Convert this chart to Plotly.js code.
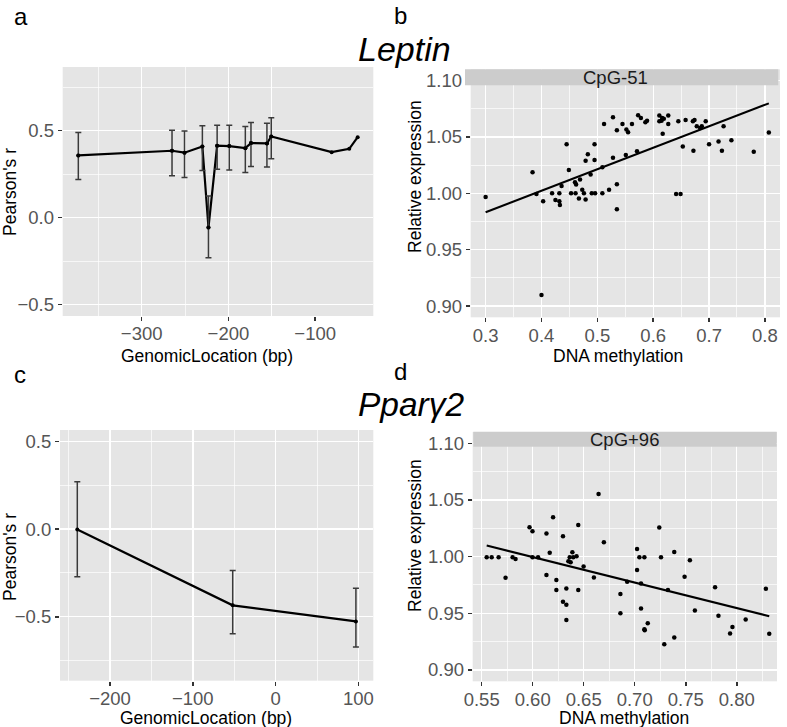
<!DOCTYPE html>
<html><head><meta charset="utf-8">
<script src="https://cdn.plot.ly/plotly-3.0.1.min.js"></script>
<style>html,body{margin:0;padding:0;background:#fff}#chart{width:787px;height:727px}</style>
</head><body><div id="chart"></div>
<script>
// ---- Panel a: Leptin, Pearson's r by genomic location ----
const locA   = [-373, -265, -250.6, -230, -223, -213, -199, -180.5, -174, -155.6, -150.6, -81, -60.7, -51];
const rA     = [0.357, 0.384, 0.373, 0.409, -0.057, 0.413, 0.411, 0.399, 0.428, 0.426, 0.466, 0.376, 0.395, 0.462];
const upperA = [0.489, 0.502, 0.498, 0.527, 0.124, 0.530, 0.530, 0.523, 0.546, 0.542, 0.574, null, null, null];
const lowerA = [0.219, 0.241, 0.230, 0.270, -0.230, 0.278, 0.274, 0.259, 0.293, 0.291, 0.338, null, null, null];

// ---- Panel b: Leptin CpG-51 ----
const methB = [0.300,0.384,0.391,0.400,0.403,0.419,0.425,0.432,0.432,0.433,0.436,0.445,0.449,0.453,0.460,0.461,0.462,0.467,0.469,0.473,0.476,0.479,0.479,0.483,0.488,0.490,0.495,0.495,0.496,0.509,0.509,0.512,0.521,0.528,0.528,0.535,0.535,0.535,0.545,0.551,0.552,0.555,0.562,0.571,0.573,0.578,0.586,0.589,0.611,0.611,0.615,0.616,0.617,0.619,0.627,0.627,0.641,0.645,0.649,0.653,0.658,0.671,0.672,0.674,0.678,0.684,0.687,0.694,0.700,0.717,0.723,0.726,0.740,0.780,0.807];
const exprB = [0.9968,1.0188,0.9994,0.9098,0.993,1.000,0.994,1.000,0.993,0.9896,1.0066,1.0436,1.0208,1.000,1.0098,1.000,1.0078,0.9954,1.0124,1.0032,1.000,1.0289,0.9945,1.0347,1.0168,1.000,1.0295,1.0436,1.000,1.000,1.0231,1.0616,1.0032,1.0676,1.0315,1.056,1.0081,0.9858,1.0616,1.0341,1.0566,1.0543,1.0616,1.0373,1.0694,1.0668,1.063,1.0645,1.0691,1.0639,1.0645,1.0668,1.0529,1.0662,1.0616,1.0691,0.9994,1.0639,0.9994,1.0416,1.065,1.0639,1.0379,1.065,1.0595,1.0581,1.0595,1.0639,1.0436,1.046,1.0379,1.0595,1.0471,1.037,1.054];

// ---- Panel c: Ppary2, Pearson's r by genomic location ----
const locC   = [-239.5, -51.8, 97];
const rC     = [-0.002, -0.435, -0.527];
const upperC = [0.270, -0.236, -0.337];
const lowerC = [-0.272, -0.597, -0.673];

// ---- Panel d: Ppary2 CpG+96 ----
const methD = [0.5549,0.5598,0.5666,0.5734,0.5803,0.5832,0.5969,0.5998,0.5998,0.6053,0.6135,0.6135,0.6167,0.6200,0.6232,0.6232,0.6297,0.6297,0.6330,0.6330,0.6330,0.6350,0.6363,0.6372,0.6389,0.6398,0.6430,0.6447,0.6447,0.6499,0.6600,0.6646,0.6698,0.6860,0.6860,0.6926,0.7023,0.7023,0.7046,0.7062,0.7062,0.7095,0.7095,0.7098,0.7128,0.7241,0.7258,0.7290,0.7326,0.7388,0.7388,0.7489,0.7541,0.7590,0.7788,0.7821,0.7935,0.7958,0.8088,0.8286,0.8319];
const exprD = [0.9994,0.9994,0.9994,0.9814,0.9994,0.9979,1.0260,1.0224,0.9994,0.9994,1.0204,0.9838,1.0035,1.0348,0.9794,0.9705,1.0180,0.9602,0.9575,0.9720,0.9442,0.9959,0.9994,0.9950,1.0038,0.9994,1.0003,1.0280,0.9705,0.9912,0.9817,1.0552,1.0127,0.9670,0.9501,0.9779,1.0068,0.9882,0.9994,0.9764,0.9543,0.9994,0.9360,0.9351,0.9413,1.0257,0.9994,0.9227,0.9705,1.0041,0.9286,0.9823,0.9968,0.9525,0.9729,0.9478,0.9322,0.9380,0.9445,0.9717,0.9319];

// tick labels
const tickA_x = [-300, -200, -100], tickA_xt = ['\u2212300', '\u2212200', '\u2212100'];
const tickR_y = [-0.5, 0, 0.5],     tickR_yt = ['\u22120.5', '0.0', '0.5'];
const tickB_x = [0.3, 0.4, 0.5, 0.6, 0.7, 0.8], tickB_xt = ['0.3','0.4','0.5','0.6','0.7','0.8'];
const tickE_y = [0.90, 0.95, 1.00, 1.05, 1.10], tickE_yt = ['0.90','0.95','1.00','1.05','1.10'];
const tickC_x = [-200, -100, 0, 100], tickC_xt = ['\u2212200', '\u2212100', '0', '100'];
const tickD_x = [0.55, 0.60, 0.65, 0.70, 0.75, 0.80], tickD_xt = ['0.55','0.60','0.65','0.70','0.75','0.80'];

// ---- helpers ----
const W = 787, H = 727;
const px = v => v / W;
const py = v => 1 - v / H;
function ols(x, y) {
  const n = x.length;
  const mx = x.reduce((a, b) => a + b, 0) / n, my = y.reduce((a, b) => a + b, 0) / n;
  let sxy = 0, sxx = 0;
  for (let i = 0; i < n; i++) { sxy += (x[i] - mx) * (y[i] - my); sxx += (x[i] - mx) ** 2; }
  const b = sxy / sxx; return { a: my - b * mx, b };
}
function fitLine(x, y) {
  const f = ols(x, y);
  const xs = [Math.min(...x), Math.max(...x)];
  return { x: xs, y: xs.map(v => f.a + f.b * v) };
}
function withErr(loc, r, up, lo) {
  const idx = r.map((_, i) => i).filter(i => up[i] !== null);
  return {
    x: idx.map(i => loc[i]), y: idx.map(i => r[i]),
    plus: idx.map(i => up[i] - r[i]), minus: idx.map(i => r[i] - lo[i])
  };
}

const FONT = 'Liberation Sans, Arial, sans-serif';
const tickFont = { family: FONT, size: 18.5, color: '#555555' };
const GRID = '#ffffff';
function axisBase(extra) {
  return Object.assign({
    showgrid: true, gridcolor: GRID, gridwidth: 1.4, zeroline: false, showline: false,
    ticks: 'outside', ticklen: 4, tickwidth: 1.6, tickcolor: '#333333',
    tickfont: tickFont, tickmode: 'array', fixedrange: true
  }, extra);
}
function xAxis(extra) { return axisBase(Object.assign({ ticklabelstandoff: -3 }, extra)); }
function minorGrid(vals) {
  return { tickvals: vals, showgrid: true, gridcolor: GRID, gridwidth: 0.7, ticks: '' };
}

const errA = withErr(locA, rA, upperA, lowerA);
const errC = withErr(locC, rC, upperC, lowerC);
const fitB = fitLine(methB, exprB);
const fitD = fitLine(methD, exprD);

const errStyle = (e) => ({ type: 'data', symmetric: false, array: e.plus, arrayminus: e.minus,
  color: '#3a3a3a', thickness: 1.5, width: 3 });

const traces = [
  // panel a
  { x: locA, y: rA, xaxis: 'x', yaxis: 'y', mode: 'lines+markers', type: 'scatter',
    line: { color: '#000', width: 2.2 }, marker: { color: '#000', size: 4 }, hoverinfo: 'skip' },
  { x: errA.x, y: errA.y, xaxis: 'x5', yaxis: 'y', mode: 'markers', type: 'scatter',
    marker: { color: '#000', size: 4 }, error_y: errStyle(errA), hoverinfo: 'skip' },
  // panel b
  { x: methB, y: exprB, xaxis: 'x2', yaxis: 'y2', mode: 'markers', type: 'scatter',
    marker: { color: '#000', size: 4.5 }, hoverinfo: 'skip' },
  { x: fitB.x, y: fitB.y, xaxis: 'x2', yaxis: 'y2', mode: 'lines', type: 'scatter',
    line: { color: '#000', width: 2 }, hoverinfo: 'skip' },
  // panel c
  { x: locC, y: rC, xaxis: 'x3', yaxis: 'y3', mode: 'lines+markers', type: 'scatter',
    line: { color: '#000', width: 2.2 }, marker: { color: '#000', size: 4 },
    error_y: errStyle(errC), hoverinfo: 'skip' },
  // panel d
  { x: methD, y: exprD, xaxis: 'x4', yaxis: 'y4', mode: 'markers', type: 'scatter',
    marker: { color: '#000', size: 4.5 }, hoverinfo: 'skip' },
  { x: fitD.x, y: fitD.y, xaxis: 'x4', yaxis: 'y4', mode: 'lines', type: 'scatter',
    line: { color: '#000', width: 2 }, hoverinfo: 'skip' }
];

const domA_x = [px(62.7), px(373.3)], domA_y = [py(316), py(67)];
const domB_x = [px(470.7), px(780)],  domB_y = [py(317.3), py(69.4)];
const domC_x = [px(60), px(373.3)],   domC_y = [py(680.7), py(430)];
const domD_x = [px(472.7), px(777)],  domD_y = [py(681.3), py(432)];

const layout = {
  width: W, height: H, margin: { l: 0, r: 0, t: 0, b: 0 },
  paper_bgcolor: '#ffffff', plot_bgcolor: '#e5e5e5', showlegend: false,
  font: { family: FONT },
  // panel a: grid axis + label axis
  xaxis: xAxis({ domain: domA_x, range: [-391, -33], anchor: 'y', tickvals: [-300, -200, -150],
    showticklabels: false, ticks: '', minor: minorGrid([-350, -250]) }),
  xaxis5: xAxis({ domain: domA_x, range: [-391, -33], anchor: 'y', overlaying: 'x', showgrid: false,
    tickvals: tickA_x, ticktext: tickA_xt }),
  yaxis: axisBase({ domain: domA_y, range: [-0.565, 0.865], anchor: 'x', tickvals: tickR_y, ticktext: tickR_yt,
    minor: minorGrid([-0.25, 0.25, 0.75]) }),
  // panel b
  xaxis2: xAxis({ domain: domB_x, range: [0.2733, 0.8270], anchor: 'y2', tickvals: tickB_x, ticktext: tickB_xt,
    minor: minorGrid([0.35, 0.45, 0.55, 0.65, 0.75]) }),
  yaxis2: axisBase({ domain: domB_y, range: [0.89, 1.11], anchor: 'x2', tickvals: tickE_y, ticktext: tickE_yt,
    minor: minorGrid([0.925, 0.975, 1.025, 1.075]) }),
  // panel c
  xaxis3: xAxis({ domain: domC_x, range: [-260.4, 118], anchor: 'y3', tickvals: tickC_x, ticktext: tickC_xt,
    minor: minorGrid([-250, -150, -50, 50]) }),
  yaxis3: axisBase({ domain: domC_y, range: [-0.865, 0.565], anchor: 'x3', tickvals: tickR_y, ticktext: tickR_yt,
    minor: minorGrid([-0.75, -0.25, 0.25]) }),
  // panel d
  xaxis4: xAxis({ domain: domD_x, range: [0.5412, 0.8395], anchor: 'y4', tickvals: tickD_x, ticktext: tickD_xt,
    minor: minorGrid([0.575, 0.625, 0.675, 0.725, 0.775, 0.825]) }),
  yaxis4: axisBase({ domain: domD_y, range: [0.89, 1.11], anchor: 'x4', tickvals: tickE_y, ticktext: tickE_yt,
    minor: minorGrid([0.925, 0.975, 1.025, 1.075]) }),
  shapes: [
    { type: 'rect', xref: 'paper', yref: 'paper', x0: px(465), x1: px(778.3), y0: py(85.3), y1: py(69.3),
      fillcolor: '#cccccc', line: { width: 0 }, layer: 'above' },
    { type: 'rect', xref: 'paper', yref: 'paper', x0: px(473.3), x1: px(776.7), y0: py(446.7), y1: py(431.7),
      fillcolor: '#cccccc', line: { width: 0 }, layer: 'above' }
  ],
  annotations: []
};

function ann(text, x, y, opts) {
  layout.annotations.push(Object.assign({ text, x: px(x), y: py(y), xref: 'paper', yref: 'paper',
    showarrow: false, xanchor: 'center', yanchor: 'middle',
    font: { family: FONT, size: 17.5, color: '#000' } }, opts || {}));
}
// panel letters
const letterFont = { family: FONT, size: 24, color: '#000' };
ann('a', 12, 16, { xanchor: 'left', font: letterFont });
ann('b', 392, 15.5, { xanchor: 'left', font: letterFont });
ann('c', 12, 374, { xanchor: 'left', font: letterFont });
ann('d', 392, 371.5, { xanchor: 'left', font: letterFont });
// gene titles
ann('<i>Leptin</i>', 356, 49, { xanchor: 'left', font: { family: FONT, size: 34, color: '#000' } });
ann('<i>Ppar\u03b32</i>', 356, 404.5, { xanchor: 'left', font: { family: FONT, size: 33.5, color: '#000' } });
// strips
ann('CpG-51', 615, 77.5, { font: { family: FONT, size: 18.5, color: '#1a1a1a' } });
ann('CpG+96', 624, 439.5, { font: { family: FONT, size: 18.5, color: '#1a1a1a' } });
// axis titles
ann('GenomicLocation (bp)', 207, 356);
ann('DNA methylation', 618, 356);
ann('GenomicLocation (bp)', 206, 717.5);
ann('DNA methylation', 624, 717.5);
ann("Pearson's r", 10, 192, { textangle: -90 });
ann("Pearson's r", 10, 557, { textangle: -90 });
ann('Relative expression', 415, 177, { textangle: -90 });
ann('Relative expression', 415, 536, { textangle: -90 });

Plotly.newPlot('chart', traces, layout, { staticPlot: true, displayModeBar: false });
</script>
</body></html>
